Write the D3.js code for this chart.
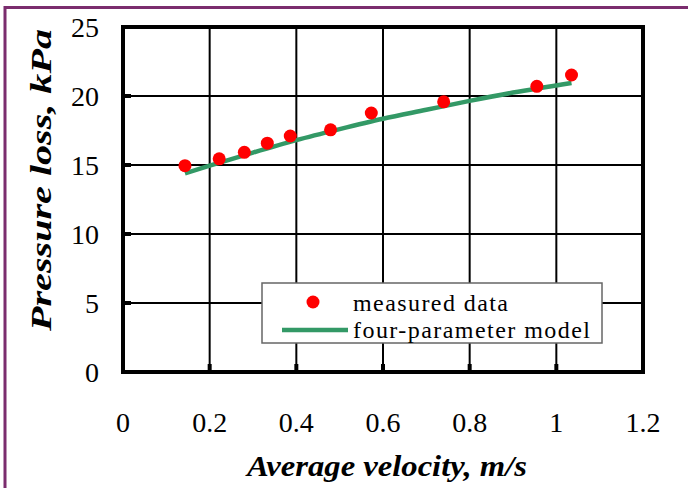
<!DOCTYPE html>
<html>
<head>
<meta charset="utf-8">
<script src="https://cdn.jsdelivr.net/npm/d3@7"></script>
<style>
  body { margin: 0; background: #fff; }
  svg { display: block; }
  text { font-family: "Liberation Serif", "DejaVu Serif", serif; }
</style>
</head>
<body>
<div id="chart"></div>
<script>
// measured points
var velocity = [0.143, 0.222, 0.280, 0.333, 0.386, 0.479, 0.573, 0.740, 0.955, 1.035];
var pressure = [14.95, 15.45, 15.92, 16.58, 17.1, 17.55, 18.77, 19.58, 20.7, 21.52];

// four-parameter model curve
var modelV = [0.143, 0.2, 0.3, 0.4, 0.5, 0.6, 0.7, 0.8, 0.9, 1.035];
var modelP = [14.4, 14.95, 15.9, 16.8, 17.6, 18.35, 19.0, 19.65, 20.25, 20.95];

var xTicks = [0, 0.2, 0.4, 0.6, 0.8, 1, 1.2];
var yTicks = [0, 5, 10, 15, 20, 25];

var width = 688,
    height = 488;

var margin = {left: 123, top: 27, right: 45, bottom: 116};

var svg = d3.select("#chart")
  .append("svg")
    .attr("width", width)
    .attr("height", height);

// page frame (left and top edges)
svg.append("path")
  .attr("d", "M5,488 V7.5 H688")
  .attr("fill", "none")
  .attr("stroke", "#7b2d6e")
  .attr("stroke-width", 3);

var x = d3.scaleLinear()
  .domain([0, 1.2])
  .range([margin.left, width - margin.right]);

var y = d3.scaleLinear()
  .domain([0, 25])
  .range([height - margin.bottom, margin.top]);

// grid lines
svg.append("g")
  .selectAll("line")
  .data(xTicks.slice(1, -1))
  .enter()
  .append("line")
    .attr("x1", d => x(d)).attr("x2", d => x(d))
    .attr("y1", y(25)).attr("y2", y(0))
    .attr("stroke", "#000")
    .attr("stroke-width", 2);

svg.append("g")
  .selectAll("line")
  .data(yTicks.slice(1, -1))
  .enter()
  .append("line")
    .attr("x1", x(0)).attr("x2", x(1.2))
    .attr("y1", d => y(d)).attr("y2", d => y(d))
    .attr("stroke", "#000")
    .attr("stroke-width", 2);

// short thick inside ticks
svg.append("g")
  .selectAll("line")
  .data(xTicks.slice(1, -1))
  .enter()
  .append("line")
    .attr("x1", d => x(d)).attr("x2", d => x(d))
    .attr("y1", y(0)).attr("y2", y(0) - 8)
    .attr("stroke", "#000")
    .attr("stroke-width", 4);

svg.append("g")
  .selectAll("line")
  .data(yTicks.slice(1, -1))
  .enter()
  .append("line")
    .attr("x1", x(0)).attr("x2", x(0) + 8)
    .attr("y1", d => y(d)).attr("y2", d => y(d))
    .attr("stroke", "#000")
    .attr("stroke-width", 4);

// plot frame
svg.append("rect")
  .attr("x", x(0))
  .attr("y", y(25))
  .attr("width", x(1.2) - x(0))
  .attr("height", y(0) - y(25))
  .attr("fill", "none")
  .attr("stroke", "#000")
  .attr("stroke-width", 4);

// tick labels
svg.append("g")
  .selectAll("text")
  .data(xTicks)
  .enter()
  .append("text")
    .attr("x", d => x(d))
    .attr("y", 432)
    .attr("text-anchor", "middle")
    .style("font-size", "28px")
    .text(d => d);

svg.append("g")
  .selectAll("text")
  .data(yTicks)
  .enter()
  .append("text")
    .attr("x", 99)
    .attr("y", d => y(d) + 10)
    .attr("text-anchor", "end")
    .style("font-size", "28px")
    .text(d => d);

// axis titles
svg.append("text")
  .attr("x", 247)
  .attr("y", 476)
  .attr("textLength", 280)
  .attr("lengthAdjust", "spacingAndGlyphs")
  .style("font-size", "29px")
  .style("font-style", "italic")
  .style("font-weight", "bold")
  .text("Average velocity, m/s");

svg.append("text")
  .attr("transform", "translate(51,331) rotate(-90)")
  .attr("textLength", 302)
  .attr("lengthAdjust", "spacingAndGlyphs")
  .style("font-size", "29px")
  .style("font-style", "italic")
  .style("font-weight", "bold")
  .text("Pressure loss, kPa");

// model line
var line = d3.line()
  .x((d, i) => x(modelV[i]))
  .y(d => y(d))
  .curve(d3.curveMonotoneX);

svg.append("path")
  .attr("d", line(modelP))
  .attr("fill", "none")
  .attr("stroke", "#339966")
  .attr("stroke-width", 4.5);

// measured points
svg.append("g")
  .selectAll("circle")
  .data(pressure)
  .enter()
  .append("circle")
    .attr("cx", (d, i) => x(velocity[i]))
    .attr("cy", d => y(d))
    .attr("r", 6.5)
    .attr("fill", "#ff0000");

// legend
var legend = svg.append("g");
legend.append("rect")
  .attr("x", 262).attr("y", 283)
  .attr("width", 340).attr("height", 60)
  .attr("fill", "#fff")
  .attr("stroke", "#666")
  .attr("stroke-width", 1.5);

legend.append("circle")
  .attr("cx", 313).attr("cy", 302)
  .attr("r", 6.5)
  .attr("fill", "#ff0000");

legend.append("line")
  .attr("x1", 282).attr("x2", 348)
  .attr("y1", 330).attr("y2", 330)
  .attr("stroke", "#339966")
  .attr("stroke-width", 4.5);

legend.append("text")
  .attr("x", 353).attr("y", 311)
  .attr("textLength", 155)
  .attr("lengthAdjust", "spacing")
  .style("font-size", "24px")
  .text("measured data");

legend.append("text")
  .attr("x", 353).attr("y", 338)
  .attr("textLength", 237)
  .attr("lengthAdjust", "spacing")
  .style("font-size", "24px")
  .text("four-parameter model");
</script>
</body>
</html>
